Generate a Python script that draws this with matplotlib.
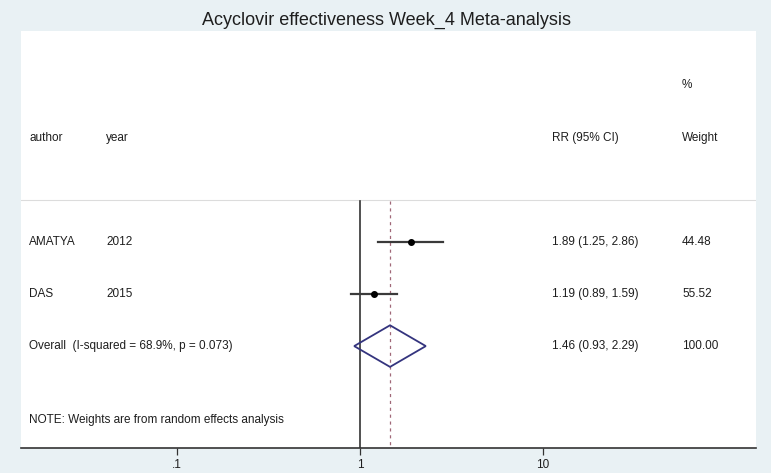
import numpy as np
import matplotlib
matplotlib.use("Agg")
import matplotlib.pyplot as plt
from matplotlib.patches import Polygon

plt.rcParams['font.family'] = ['Liberation Sans', 'DejaVu Sans']

# study data
authors = ["AMATYA", "DAS"]
years = ["2012", "2015"]
rr = [1.89, 1.19]
ci_lo = [1.25, 0.89]
ci_hi = [2.86, 1.59]
weights = ["44.48", "55.52"]

# pooled estimate
overall_rr = 1.46
overall_lo = 0.93
overall_hi = 2.29
overall_label = "Overall  (I-squared = 68.9%, p = 0.073)"
overall_weight = "100.00"

tick_vals = [0.1, 1, 10]
tick_labels = [".1", "1", "10"]

bg = "#e9f1f4"
txt = "#1e1e1e"

fig = plt.figure(figsize=(7.71, 4.73), dpi=100, facecolor=bg)
ax = fig.add_axes([21/771, 1 - 448/473, 735/771, 417/473])
ax.set_facecolor("white")

ax.set_xscale("log")
ax.set_xlim(10 ** -1.852, 10 ** 2.164)
ax.set_ylim(3.96, -4.06)

# reference lines
ax.plot([1, 1], [-0.79, 3.96], color="#333333", lw=1.2, zorder=2)
ax.plot([overall_rr, overall_rr], [-0.79, 3.96], color="#a06878", lw=0.9,
        ls=(0, (2.5, 3)), zorder=2)

# header separator
ax.axhline(-0.81, color="#dcdcdc", lw=0.8, zorder=1)

# study rows
for i in range(len(authors)):
    ax.plot([ci_lo[i], ci_hi[i]], [i, i], color="#3a3a3a", lw=1.6, zorder=3)
    ax.plot(rr[i], i, "o", color="black", ms=4, zorder=4)

# overall diamond
row = len(authors)
h = 0.4
dia = Polygon([[overall_lo, row], [overall_rr, row - h], [overall_hi, row],
               [overall_rr, row + h]], closed=True, fill=False,
              edgecolor="#34347e", lw=1.3, zorder=4)
ax.add_patch(dia)

# text columns (x in axes fraction, y in data rows)
tr = ax.get_yaxis_transform()
col_author = 0.011
col_year = 0.116
col_rr = 0.7224
col_w = 0.8993
fs = 8.5

ax.text(col_w, -3.02, "%", transform=tr, fontsize=fs, color=txt, va="center")
ax.text(col_author, -2, "author", transform=tr, fontsize=fs, color=txt, va="center")
ax.text(col_year, -2, "year", transform=tr, fontsize=fs, color=txt, va="center")
ax.text(col_rr, -2, "RR (95% CI)", transform=tr, fontsize=fs, color=txt, va="center")
ax.text(col_w, -2, "Weight", transform=tr, fontsize=fs, color=txt, va="center")

for i in range(len(authors)):
    ax.text(col_author, i, authors[i], transform=tr, fontsize=fs, color=txt, va="center")
    ax.text(col_year, i, years[i], transform=tr, fontsize=fs, color=txt, va="center")
    ax.text(col_rr, i, "%.2f (%.2f, %.2f)" % (rr[i], ci_lo[i], ci_hi[i]),
            transform=tr, fontsize=fs, color=txt, va="center")
    ax.text(col_w, i, weights[i], transform=tr, fontsize=fs, color=txt, va="center")

ax.text(col_author, row, overall_label, transform=tr, fontsize=fs, color=txt, va="center")
ax.text(col_rr, row, "%.2f (%.2f, %.2f)" % (overall_rr, overall_lo, overall_hi),
        transform=tr, fontsize=fs, color=txt, va="center")
ax.text(col_w, row, overall_weight, transform=tr, fontsize=fs, color=txt, va="center")

ax.text(col_author, 3.42, "NOTE: Weights are from random effects analysis",
        transform=tr, fontsize=fs, color=txt, va="center")

# axes styling
for s in ["top", "left", "right"]:
    ax.spines[s].set_visible(False)
ax.spines["bottom"].set_color("#333333")
ax.spines["bottom"].set_linewidth(1.2)
ax.set_yticks([])
ax.set_xticks(tick_vals)
ax.set_xticklabels(tick_labels)
ax.minorticks_off()
ax.tick_params(axis="x", length=5, width=0.9, color="#333333", labelsize=8.5,
               labelcolor=txt, pad=3)

fig.text(387/771, 1 - 20/473, "Acyclovir effectiveness Week_4 Meta-analysis",
         ha="center", va="center", fontsize=13, color=txt)

fig.savefig("out.png", dpi=100, facecolor=bg)
